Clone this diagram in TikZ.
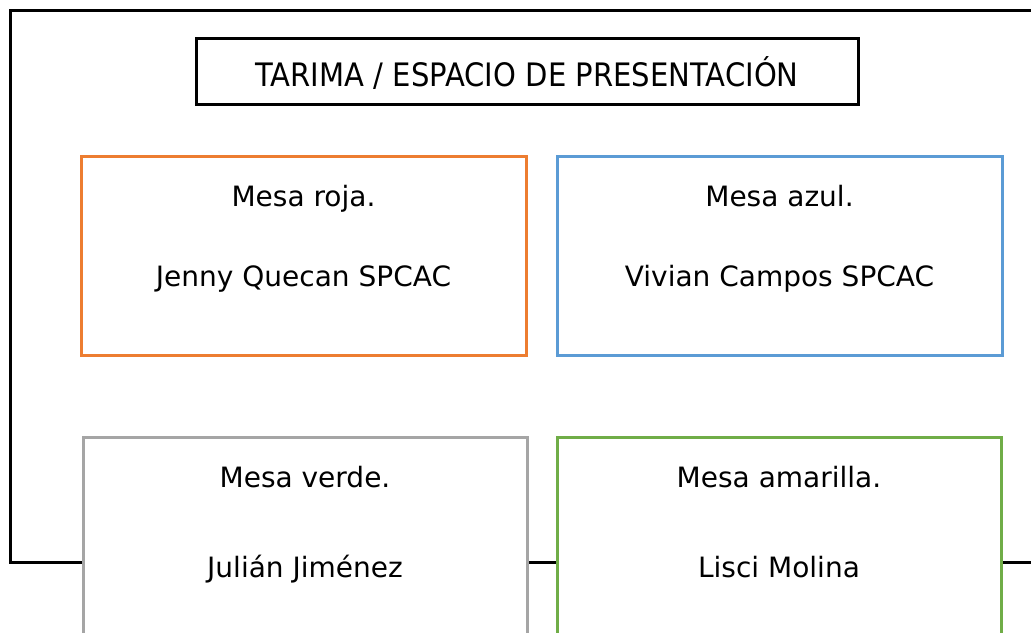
\documentclass[tikz,border=0pt]{standalone}
\usepackage{fontspec}
\setmainfont{DejaVu Sans}
\newfontfamily\titlefont[FakeStretch=0.9]{DejaVu Sans}
\definecolor{mesaorange}{HTML}{ED7D31}
\definecolor{mesablue}{HTML}{5B9BD5}
\definecolor{mesagray}{HTML}{A5A5A5}
\definecolor{mesagreen}{HTML}{70AD47}
\begin{document}
\begin{tikzpicture}[x=1pt,y=-1pt,
  frameline/.style={draw=black,line width=3pt},
  mesabox/.style={line width=3pt,fill=white},
  bodytext/.style={anchor=base,inner sep=0pt,font=\fontsize{28}{32}\selectfont},
  titletext/.style={anchor=base,inner sep=0pt,font=\titlefont\fontsize{32.3}{36}\selectfont}]
\useasboundingbox (0,0) rectangle (1031,632);
\clip (0,0) rectangle (1031,632);
\fill[white] (0,0) rectangle (1031,632);
% outer frame
\coordinate (ftr) at (1040,10);
\coordinate (ftl) at (10,10);
\coordinate (fbl) at (10,562);
\coordinate (fbr) at (1040,562);
\draw[frameline] (ftr) -- (ftl) -- (fbl) -- (fbr);
% title box
\draw[frameline] (196,38) rectangle (858,104);
\node[titletext] (title) at (527,86) {TARIMA / ESPACIO DE PRESENTACIÓN};
% top boxes
\draw[mesabox,draw=mesaorange] (81,156) rectangle (526,355);
\node[bodytext] (roja) at (303.5,206) {Mesa roja.};
\node[bodytext] (jenny) at (303.5,286) {Jenny Quecan SPCAC};
\draw[mesabox,draw=mesablue] (557,156) rectangle (1002,355);
\node[bodytext] (azul) at (779.5,206) {Mesa azul.};
\node[bodytext] (vivian) at (779.5,286) {Vivian Campos SPCAC};
% bottom boxes
\draw[mesabox,draw=mesagray] (83,437) rectangle (527,660);
\node[bodytext] (verde) at (305,487) {Mesa verde.};
\node[bodytext] (julian) at (305,577) {Julián Jiménez};
\draw[mesabox,draw=mesagreen] (557,437) rectangle (1001,660);
\node[bodytext] (amarilla) at (779,487) {Mesa amarilla.};
\node[bodytext] (lisci) at (779,577) {Lisci Molina};
\end{tikzpicture}
\end{document}
